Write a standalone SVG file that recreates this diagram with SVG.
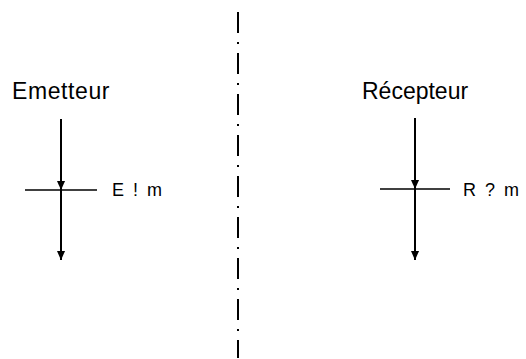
<svg xmlns="http://www.w3.org/2000/svg" width="526" height="359" viewBox="0 0 526 359">
<style>
.t{font-family:"Liberation Sans",Arial,sans-serif;fill:#000}
.big{font-size:23px}
.lab{font-size:18px;letter-spacing:2px}
.v{stroke:#000;stroke-width:2;fill:none}
.h{stroke:#000;stroke-width:1.5;fill:none}
.sep{stroke:#000;stroke-width:2;fill:none;stroke-dasharray:21 9 2 9}
</style>
<defs>
<marker id="arr" viewBox="0 0 10 10" refX="10" refY="5" markerWidth="10" markerHeight="9" orient="auto" markerUnits="userSpaceOnUse">
<path d="M0,0.5 L10,5 L0,9.5 Z" fill="#000"/>
</marker>
</defs>
<g id="separator"><line class="sep" x1="238" y1="12" x2="238" y2="358"/></g>
<g id="emetteur">
<text class="t big" x="12" y="99" letter-spacing="0.6">Emetteur</text>
<text class="t lab" x="112" y="196">E ! m</text>
</g>
<g id="recepteur">
<text class="t big" x="362" y="99">Récepteur</text>
<text class="t lab" x="463" y="196">R ? m</text>
</g>
<g id="connectors">
<line class="h" x1="25" y1="190" x2="97" y2="190"/>
<line class="v" x1="61" y1="119" x2="61" y2="190" marker-end="url(#arr)"/>
<line class="v" x1="61" y1="190" x2="61" y2="260" marker-end="url(#arr)"/>
<line class="h" x1="380" y1="189" x2="450" y2="189"/>
<line class="v" x1="415" y1="118" x2="415" y2="189" marker-end="url(#arr)"/>
<line class="v" x1="415" y1="189" x2="415" y2="260" marker-end="url(#arr)"/>
</g>
</svg>
